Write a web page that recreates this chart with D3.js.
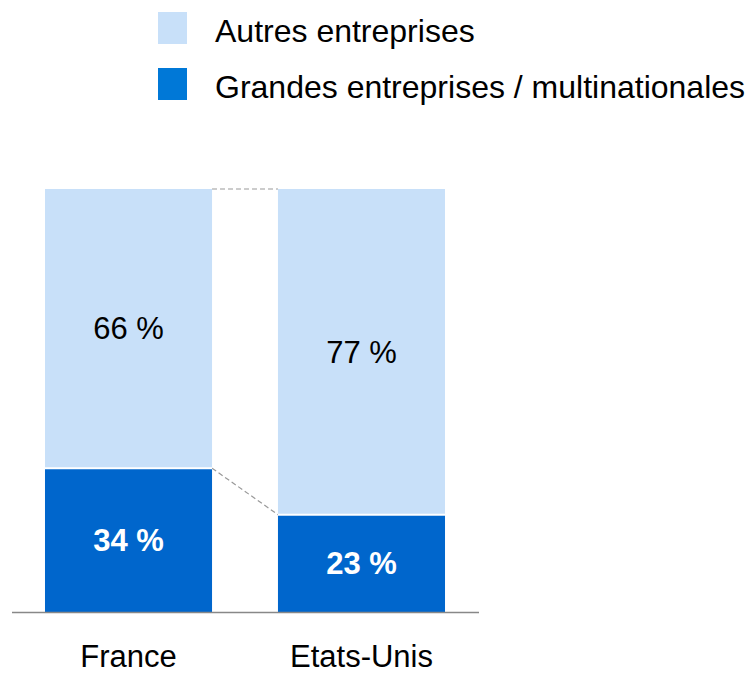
<!DOCTYPE html>
<html lang="fr">
<head>
<meta charset="utf-8">
<script src="https://cdn.jsdelivr.net/npm/d3@7"></script>
<style type="text/css">
body { margin: 0; background: #fff; }
text { font-family: "Liberation Sans", Arial, sans-serif; }
</style>
</head>
<body>
<script type="text/javascript">

// data
var countries = ["France", "Etats-Unis"];
var grandes = [34, 23];
var autres = [66, 77];
var seriesNames = ["Autres entreprises", "Grandes entreprises / multinationales"];
var seriesColors = ["#c8e0f9", "#0078d7"];
var barColors = ["#c8e0f9", "#0066cc"];

var width = 749, height = 677;

var svg = d3.select("body").append("svg")
	.attr("width", width)
	.attr("height", height);

// scales
var x = d3.scaleBand()
	.domain(countries)
	.range([12, 478])
	.paddingInner(0.283)
	.paddingOuter(0.1416);

var y = d3.scaleLinear()
	.domain([0, 100])
	.range([612, 189]);

// stacked rows
var rows = countries.map(function(c, i) {
	return { country: c, grandes: grandes[i], autres: autres[i] };
});

// connector dashed lines
for (var i = 0; i < rows.length - 1; i++) {
	var a = rows[i], b = rows[i + 1];
	[a.grandes + a.autres, a.grandes].forEach(function(v, k) {
		var v2 = k == 0 ? b.grandes + b.autres : b.grandes;
		svg.append("line")
			.attr("x1", x(a.country) + x.bandwidth())
			.attr("x2", x(b.country))
			.attr("y1", y(v))
			.attr("y2", y(v2))
			.attr("stroke", "#999")
			.attr("stroke-width", 1.2)
			.attr("stroke-dasharray", "5,3");
	});
}

var g = svg.selectAll("g.bar")
	.data(rows)
	.enter()
	.append("g")
	.attr("class", "bar");

// grandes entreprises (bottom)
g.append("rect")
	.attr("x", function(d) { return x(d.country); })
	.attr("width", x.bandwidth())
	.attr("y", function(d) { return y(d.grandes); })
	.attr("height", function(d) { return y(0) - y(d.grandes); })
	.style("fill", barColors[1]);

// autres entreprises (top)
g.append("rect")
	.attr("x", function(d) { return x(d.country); })
	.attr("width", x.bandwidth())
	.attr("y", function(d) { return y(d.grandes + d.autres); })
	.attr("height", function(d) { return y(d.grandes) - y(d.grandes + d.autres); })
	.style("fill", barColors[0]);

// white separator
g.append("line")
	.attr("x1", function(d) { return x(d.country); })
	.attr("x2", function(d) { return x(d.country) + x.bandwidth(); })
	.attr("y1", function(d) { return y(d.grandes); })
	.attr("y2", function(d) { return y(d.grandes); })
	.attr("stroke", "#fff")
	.attr("stroke-width", 2);

// value labels
g.append("text")
	.attr("x", function(d) { return x(d.country) + x.bandwidth() / 2; })
	.attr("y", function(d) { return (y(d.grandes) + y(d.grandes + d.autres)) / 2; })
	.attr("dy", "0.35em")
	.attr("text-anchor", "middle")
	.style("font-size", "31px")
	.style("fill", "#000")
	.text(function(d) { return d.autres + " %"; });

g.append("text")
	.attr("x", function(d) { return x(d.country) + x.bandwidth() / 2; })
	.attr("y", function(d) { return (y(0) + y(d.grandes)) / 2; })
	.attr("dy", "0.35em")
	.attr("text-anchor", "middle")
	.style("font-size", "31px")
	.style("font-weight", "bold")
	.style("fill", "#fff")
	.text(function(d) { return d.grandes + " %"; });

// baseline
svg.append("line")
	.attr("x1", 12)
	.attr("x2", 479)
	.attr("y1", y(0) + 0.5)
	.attr("y2", y(0) + 0.5)
	.attr("stroke", "#888")
	.attr("stroke-width", 1.5);

// category labels
svg.selectAll("text.cat")
	.data(countries)
	.enter()
	.append("text")
	.attr("class", "cat")
	.attr("x", function(d) { return x(d) + x.bandwidth() / 2; })
	.attr("y", 667)
	.attr("text-anchor", "middle")
	.style("font-size", "31px")
	.style("fill", "#000")
	.text(function(d) { return d; });

// legend
var legend = svg.selectAll("g.legend")
	.data(seriesNames)
	.enter()
	.append("g")
	.attr("class", "legend")
	.attr("transform", function(d, i) { return "translate(158," + (12 + i * 56) + ")"; });

legend.append("rect")
	.attr("width", 29)
	.attr("height", 32)
	.style("fill", function(d, i) { return seriesColors[i]; });

legend.append("text")
	.attr("x", 57)
	.attr("y", 30)
	.style("font-size", "32px")
	.style("fill", "#000")
	.text(function(d) { return d; });

</script>
</body>
</html>
